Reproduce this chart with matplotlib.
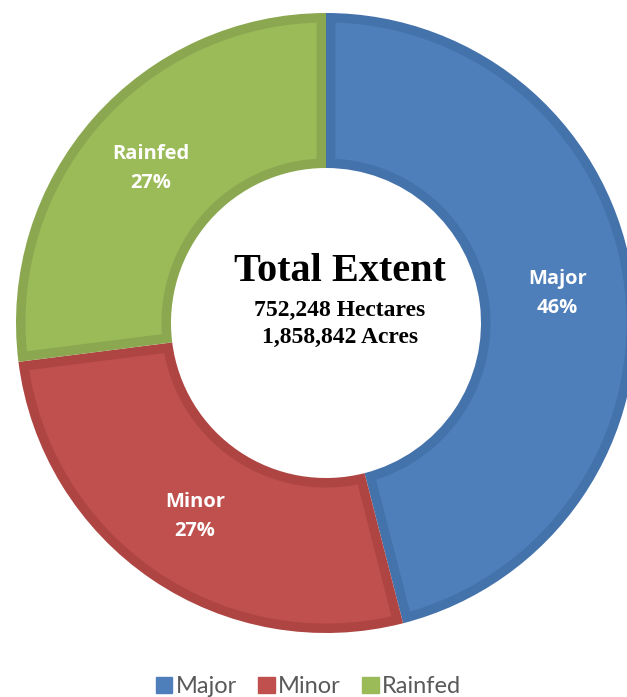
import numpy as np
import matplotlib.pyplot as plt
from matplotlib.patches import Patch, Polygon

# data
categories = ['Major', 'Minor', 'Rainfed']
shares = [46, 27, 27]
face_colors = ['#4F7FBA', '#C0504D', '#9BBB59']
edge_colors = ['#4472AB', '#AE4542', '#8BA851']

W, H = 627, 697
cx, cy, R = 326, 323, 310  # center and outer radius, pixels
ring = 0.5
b = 9.5 / R  # border width inside each slice

fig = plt.figure(figsize=(W / 100, H / 100), dpi=100)
ax = fig.add_axes([0, 0, 1, 1])

# full slices in the border colour
wedges, _ = ax.pie(shares, colors=edge_colors, startangle=90, counterclock=False,
                   radius=1, wedgeprops=dict(width=ring, linewidth=0))

# inset face of every slice, leaving an even border
r_out, r_in = 1 - b, 1 - ring + b
for w, fc in zip(wedges, face_colors):
    t1, t2 = np.deg2rad(w.theta1), np.deg2rad(w.theta2)
    do = np.arcsin(b / r_out)
    di = np.arcsin(b / r_in)
    a_out = np.linspace(t1 + do, t2 - do, 200)
    a_in = np.linspace(t2 - di, t1 + di, 200)
    pts = np.vstack([np.column_stack([r_out * np.cos(a_out), r_out * np.sin(a_out)]),
                     np.column_stack([r_in * np.cos(a_in), r_in * np.sin(a_in)])])
    ax.add_patch(Polygon(pts, closed=True, facecolor=fc, edgecolor='none'))

# slice labels
for w, name, pct in zip(wedges, categories, shares):
    th = np.deg2rad((w.theta1 + w.theta2) / 2)
    ax.text(0.753 * np.cos(th), 0.753 * np.sin(th), f'{name}\n{pct}%',
            ha='center', va='center', color='white', fontsize=14.5,
            fontweight='bold', family='Open Sans', linespacing=1.6)

# center text
ax.text(0.045, 0.165, 'Total Extent', ha='center', va='center',
        family='Liberation Serif', fontweight='bold', fontsize=29)
ax.text(0.045, 0.042, '752,248 Hectares', ha='center', va='center',
        family='Liberation Serif', fontweight='bold', fontsize=17)
ax.text(0.045, -0.047, '1,858,842 Acres', ha='center', va='center',
        family='Liberation Serif', fontweight='bold', fontsize=17)

ax.set_xlim(-cx / R, (W - cx) / R)
ax.set_ylim(-(H - cy) / R, cy / R)
ax.axis('off')

handles = [Patch(facecolor=c, edgecolor=c) for c in face_colors]
leg = fig.legend(handles, categories, loc='lower center', ncol=3,
                 bbox_to_anchor=(0.492, -0.031), frameon=False,
                 handlelength=0.7, handleheight=0.7, handletextpad=0.15,
                 columnspacing=0.9, prop={'family': 'Lato', 'size': 17})
for t in leg.get_texts():
    t.set_color('#595959')

fig.savefig('out.png', dpi=100)
